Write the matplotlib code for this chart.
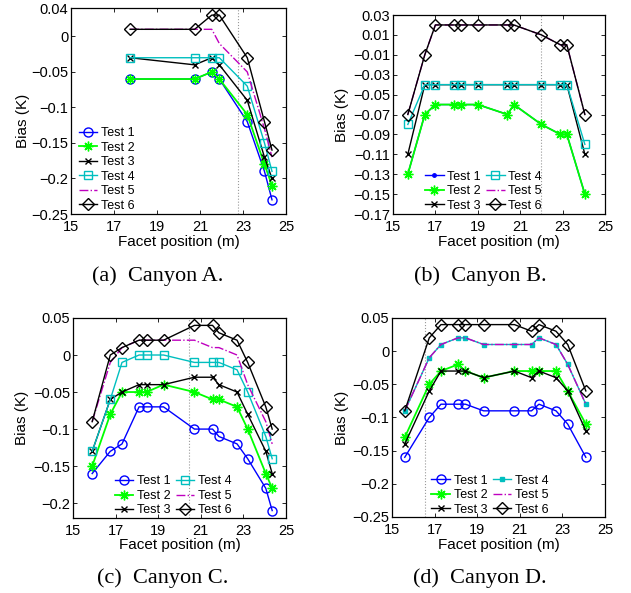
import matplotlib
matplotlib.use("Agg")
import matplotlib.pyplot as plt

plt.rcParams['font.family'] = ['Liberation Sans', 'DejaVu Sans']

# ---- data ----
# Canyon A
xa = [17.75, 20.75, 21.55, 21.9, 23.2, 24.0, 24.35]
a_t1 = [-0.06, -0.06, -0.05, -0.06, -0.12, -0.19, -0.23]
a_t2 = [-0.06, -0.06, -0.05, -0.06, -0.11, -0.18, -0.21]
a_t3 = [-0.03, -0.04, -0.03, -0.04, -0.09, -0.17, -0.20]
a_t4 = [-0.03, -0.03, -0.03, -0.03, -0.07, -0.15, -0.19]
a_t5 = [0.01, 0.01, 0.01, -0.01, -0.05, -0.13, -0.17]
a_t6 = [0.01, 0.01, 0.03, 0.03, -0.03, -0.12, -0.16]

# Canyon B
xb = [15.7, 16.5, 17.0, 17.9, 18.2, 19.0, 20.4, 20.7, 22.0, 22.9, 23.2, 24.05]
b_t1 = [-0.13, -0.07, -0.06, -0.06, -0.06, -0.06, -0.07, -0.06, -0.08, -0.09, -0.09, -0.15]
b_t2 = [-0.13, -0.07, -0.06, -0.06, -0.06, -0.06, -0.07, -0.06, -0.08, -0.09, -0.09, -0.15]
b_t3 = [-0.11, -0.04, -0.04, -0.04, -0.04, -0.04, -0.04, -0.04, -0.04, -0.04, -0.04, -0.11]
b_t4 = [-0.08, -0.04, -0.04, -0.04, -0.04, -0.04, -0.04, -0.04, -0.04, -0.04, -0.04, -0.10]
b_t5 = [-0.07, -0.01, 0.02, 0.02, 0.02, 0.02, 0.02, 0.02, 0.01, 0.0, 0.0, -0.07]
b_t6 = [-0.07, -0.01, 0.02, 0.02, 0.02, 0.02, 0.02, 0.02, 0.01, 0.0, 0.0, -0.07]

# Canyon C
xc = [15.9, 16.75, 17.3, 18.1, 18.45, 19.25, 20.7, 21.55, 21.85, 22.7, 23.2, 24.05, 24.35]
c_t1 = [-0.16, -0.13, -0.12, -0.07, -0.07, -0.07, -0.10, -0.10, -0.11, -0.12, -0.14, -0.18, -0.21]
c_t2 = [-0.15, -0.08, -0.05, -0.05, -0.05, -0.04, -0.05, -0.06, -0.06, -0.07, -0.10, -0.16, -0.18]
c_t3 = [-0.13, -0.06, -0.05, -0.04, -0.04, -0.04, -0.03, -0.03, -0.04, -0.05, -0.08, -0.13, -0.16]
c_t4 = [-0.13, -0.06, -0.01, 0.0, 0.0, 0.0, -0.01, -0.01, -0.01, -0.02, -0.05, -0.11, -0.14]
c_t5 = [-0.09, -0.01, 0.01, 0.02, 0.02, 0.02, 0.02, 0.01, 0.01, 0.0, -0.04, -0.09, -0.12]
c_t6 = [-0.09, 0.0, 0.01, 0.02, 0.02, 0.02, 0.04, 0.04, 0.03, 0.02, -0.01, -0.07, -0.10]

# Canyon D
xd = [15.6, 16.75, 17.3, 18.1, 18.45, 19.3, 20.75, 21.55, 21.9, 22.7, 23.25, 24.1]
d_t1 = [-0.16, -0.10, -0.08, -0.08, -0.08, -0.09, -0.09, -0.09, -0.08, -0.09, -0.11, -0.16]
d_t2 = [-0.13, -0.05, -0.03, -0.02, -0.03, -0.04, -0.03, -0.03, -0.03, -0.03, -0.06, -0.11]
d_t3 = [-0.14, -0.06, -0.03, -0.03, -0.03, -0.04, -0.03, -0.04, -0.03, -0.04, -0.06, -0.12]
d_t4 = [-0.09, -0.01, 0.01, 0.02, 0.02, 0.01, 0.01, 0.01, 0.02, 0.01, -0.02, -0.08]
d_t5 = [-0.09, -0.01, 0.01, 0.02, 0.02, 0.01, 0.01, 0.01, 0.02, 0.01, -0.02, -0.08]
d_t6 = [-0.09, 0.02, 0.04, 0.04, 0.04, 0.04, 0.04, 0.03, 0.04, 0.03, 0.01, -0.06]

labels = ['Test 1', 'Test 2', 'Test 3', 'Test 4', 'Test 5', 'Test 6']
captions = ['(a)  Canyon A.', '(b)  Canyon B.', '(c)  Canyon C.', '(d)  Canyon D.']
xticks = [15, 17, 19, 21, 23, 25]
yticks_a = [-0.25, -0.2, -0.15, -0.1, -0.05, 0, 0.04]
yticks_b = [-0.17, -0.15, -0.13, -0.11, -0.09, -0.07, -0.05, -0.03, -0.01, 0.01, 0.03]
yticks_c = [-0.2, -0.15, -0.1, -0.05, 0, 0.05]
yticks_d = [-0.25, -0.2, -0.15, -0.1, -0.05, 0, 0.05]

asterisk = (8, 2, 0)


def fmt(v):
    v = round(v, 3)
    if abs(v) < 1e-9:
        return '0'
    return f"{v:g}".replace('-', '\u2212')


def styles(panel):
    s = [
        dict(color='b', marker='o', mfc='none', ms=6.5, lw=1.0),
        dict(color=(0, 1, 0), marker=asterisk, ms=7, mew=1.0, lw=1.3),
        dict(color='k', marker='x', ms=4.5, lw=1.0),
        dict(color='c', marker='s', mfc='none', ms=6, lw=1.0),
        dict(color='m', ls='-.', lw=1.0),
        dict(color='k', marker='D', mfc='none', ms=6, lw=1.0),
    ]
    if panel == 'b':
        s[0] = dict(color='b', marker='.', ms=5, lw=1.0)
    if panel == 'd':
        s[3] = dict(color='c', marker='s', ms=3, lw=1.0)
    return s


fig = plt.figure(figsize=(6.31, 5.93), dpi=100)

panels = [
    ('a', [0.1125, 0.6391, 0.3407, 0.3474], xa, [a_t1, a_t2, a_t3, a_t4, a_t5, a_t6],
     (-0.25, 0.04), yticks_a, 22.75, 1, (0.035, 0.012), (-0.225, 0.45), -0.137),
    ('b', [0.6228, 0.6391, 0.3360, 0.3356], xb, [b_t1, b_t2, b_t3, b_t4, b_t5, b_t6],
     (-0.17, 0.03), yticks_b, 22.0, 2, (0.15, 0.012), (-0.24, 0.5), -0.142),
    ('c', [0.1157, 0.1265, 0.3376, 0.3373], xc, [c_t1, c_t2, c_t3, c_t4, c_t5, c_t6],
     (-0.22, 0.05), yticks_c, 20.45, 2, (0.195, 0.008), (-0.238, 0.5), -0.137),
    ('d', [0.6212, 0.1282, 0.3376, 0.3356], xd, [d_t1, d_t2, d_t3, d_t4, d_t5, d_t6],
     (-0.25, 0.05), yticks_d, 16.55, 2, (0.185, 0.006), (-0.234, 0.5), -0.142),
]

cap_pos = [(158 / 631, 1 - 276 / 593), (480 / 631, 1 - 276 / 593),
           (163 / 631, 1 - 578 / 593), (480 / 631, 1 - 578 / 593)]

for (name, rect, x, series, ylim, yt, vx, ncol, legpos, ylab_pos, xlab_y), cap, cp in zip(panels, captions, cap_pos):
    ax = fig.add_axes(rect)
    ax.axvline(vx, color='0.6', ls=':', lw=0.8)
    for y, lab, st in zip(series, labels, styles(name)):
        ax.plot(x, y, label=lab, **st)
    ax.set_xlim(15, 25)
    ax.set_ylim(*ylim)
    ax.set_xticks(xticks)
    ax.set_xticklabels([str(t) for t in xticks])
    ax.set_yticks(yt)
    ax.set_yticklabels([fmt(t) for t in yt])
    ax.tick_params(direction='in', top=True, right=True, length=3, width=0.6,
                   labelsize=10.5)
    ax.tick_params(axis='x', pad=4.5)
    ax.tick_params(axis='y', pad=2)
    for sp in ax.spines.values():
        sp.set_linewidth(0.9)
    ax.set_xlabel('Facet position (m)', fontsize=11)
    ax.set_ylabel('Bias (K)', fontsize=11)
    ax.xaxis.set_label_coords(0.5, xlab_y)
    ax.xaxis.label.set_va('center')
    ax.yaxis.set_label_coords(*ylab_pos)
    ax.yaxis.label.set_va('center')
    ax.legend(loc='lower left', bbox_to_anchor=legpos, ncol=ncol, frameon=False,
              fontsize=9, borderpad=0, borderaxespad=0, handlelength=1.5,
              handletextpad=0.3, labelspacing=0.2, columnspacing=0.4)
    fig.text(cp[0], cp[1], cap, ha='center', va='center', fontsize=16,
             family=['Liberation Serif', 'DejaVu Serif'])

fig.savefig('out.png', dpi=100)
